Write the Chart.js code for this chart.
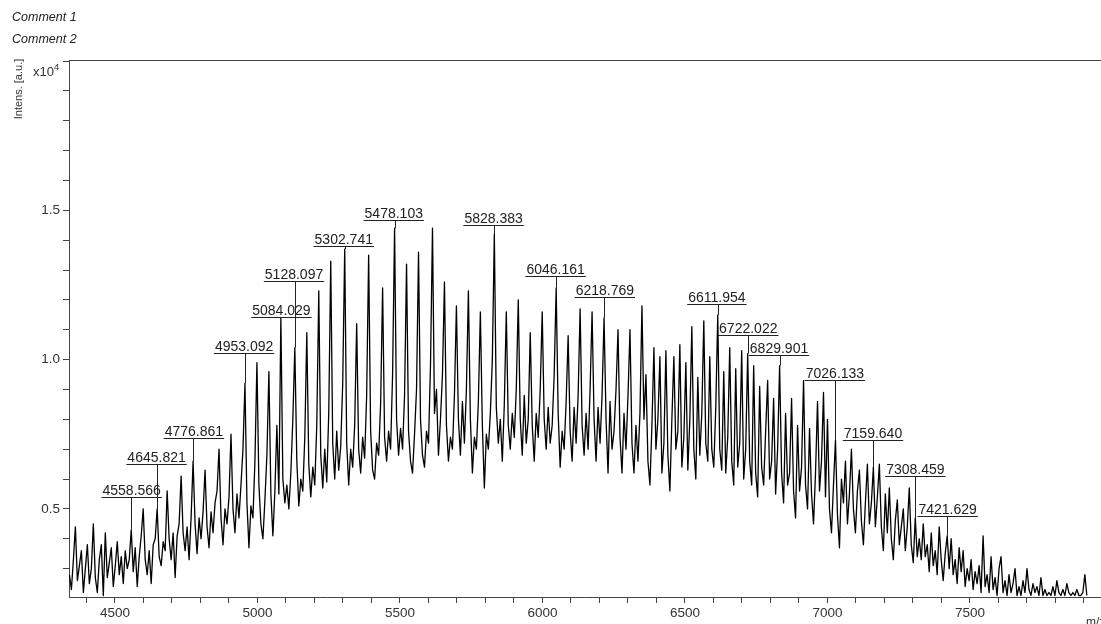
<!DOCTYPE html>
<html>
<head>
<meta charset="utf-8">
<title>Mass spectrum</title>
<script src="https://cdn.jsdelivr.net/npm/chart.js@4.4.0/dist/chart.umd.min.js"></script>
<style>
  html, body { margin: 0; padding: 0; background: #fff; overflow: hidden; }
  #wrap { position: relative; width: 1101px; height: 624px; }
</style>
</head>
<body>
<div id="wrap"><canvas id="spectrum" width="1101" height="624"></canvas></div>
<script>
// spectrum sampled every 7 Da starting at 4340 m/z, intensity in x10^4 a.u.
var mzStart = 4340;
var mzStep = 7;
var intensity = [
  0.28,0.23,0.33,0.44,0.26,0.31,0.36,0.22,0.30,0.38,
  0.25,0.30,0.45,0.27,0.22,0.33,0.38,0.21,0.42,0.27,
  0.32,0.37,0.24,0.31,0.39,0.28,0.34,0.25,0.36,0.30,
  0.33,0.43,0.29,0.37,0.24,0.34,0.41,0.50,0.33,0.28,
  0.36,0.25,0.38,0.40,0.50,0.34,0.31,0.39,0.36,0.56,
  0.40,0.33,0.42,0.27,0.41,0.45,0.61,0.42,0.36,0.44,
  0.33,0.47,0.66,0.45,0.35,0.47,0.40,0.49,0.63,0.44,
  0.37,0.49,0.42,0.52,0.56,0.70,0.47,0.38,0.50,0.45,
  0.54,0.75,0.50,0.42,0.55,0.47,0.58,0.70,0.92,0.52,
  0.37,0.51,0.47,0.66,0.99,0.58,0.45,0.40,0.53,0.68,
  0.96,0.55,0.41,0.56,0.78,0.55,1.14,0.60,0.52,0.58,
  0.50,0.62,0.80,1.04,0.66,0.51,0.60,0.56,0.74,1.09,
  0.65,0.54,0.64,0.58,0.78,1.23,0.68,0.57,0.70,0.59,
  0.82,1.33,0.72,0.60,0.76,0.63,0.71,0.92,1.37,0.72,
  0.58,0.70,0.64,0.78,1.12,0.70,0.62,0.74,0.67,0.88,
  1.35,0.76,0.63,0.60,0.72,0.68,0.85,1.24,0.74,0.66,
  0.76,0.70,0.95,1.44,0.80,0.68,0.77,0.70,0.88,1.32,
  0.76,0.66,0.62,0.75,0.90,1.36,0.80,0.68,0.64,0.76,
  0.72,0.98,1.44,0.82,0.90,0.68,0.80,0.95,1.26,0.78,
  0.66,0.74,0.70,0.88,1.18,0.80,0.68,0.86,0.72,0.90,
  1.23,0.80,0.62,0.74,0.70,0.86,1.16,0.78,0.57,0.75,
  0.70,0.82,1.00,1.42,0.84,0.72,0.80,0.66,0.85,1.16,
  0.78,0.70,0.82,0.74,0.90,1.20,0.80,0.68,0.88,0.72,
  0.80,1.09,0.78,0.66,0.82,0.74,0.90,1.16,0.80,0.70,
  0.84,0.72,0.78,0.95,1.24,0.82,0.64,0.76,0.70,0.86,
  1.08,0.76,0.66,0.84,0.72,0.88,1.17,0.78,0.68,0.82,
  0.70,0.90,1.16,0.80,0.66,0.84,0.72,0.88,1.14,0.80,
  0.62,0.86,0.70,0.76,0.90,1.10,0.74,0.62,0.82,0.70,
  0.88,1.10,0.72,0.62,0.78,0.66,0.82,1.18,0.80,0.95,
  0.66,0.58,0.78,1.04,0.70,0.80,1.01,0.62,0.72,1.03,
  0.68,0.56,0.80,1.01,0.70,0.76,1.05,0.64,0.74,0.99,
  0.63,0.80,1.11,0.70,0.60,0.94,0.68,0.82,1.13,0.72,
  0.66,1.01,0.70,0.64,0.84,1.15,0.70,0.63,0.96,0.62,
  0.74,1.04,0.66,0.58,0.97,0.64,0.72,1.03,0.60,0.70,
  1.02,0.66,0.58,0.98,0.62,0.54,0.91,0.64,0.58,0.76,
  0.93,0.60,0.66,0.87,0.55,0.70,0.98,0.62,0.52,0.82,
  0.58,0.62,0.87,0.56,0.47,0.78,0.56,0.64,0.93,0.58,
  0.50,0.77,0.55,0.45,0.62,0.86,0.56,0.66,0.89,0.54,
  0.80,0.50,0.42,0.58,0.73,0.48,0.37,0.60,0.52,0.66,
  0.45,0.55,0.70,0.50,0.42,0.56,0.63,0.46,0.38,0.52,
  0.65,0.45,0.52,0.64,0.44,0.54,0.65,0.44,0.36,0.55,
  0.42,0.57,0.40,0.33,0.46,0.53,0.38,0.44,0.50,0.36,
  0.44,0.57,0.38,0.32,0.47,0.34,0.40,0.33,0.45,0.34,
  0.38,0.29,0.42,0.31,0.36,0.28,0.44,0.33,0.26,0.35,
  0.41,0.30,0.40,0.28,0.33,0.25,0.37,0.29,0.36,0.24,
  0.30,0.26,0.33,0.23,0.29,0.25,0.31,0.22,0.41,0.24,
  0.28,0.22,0.34,0.23,0.27,0.21,0.30,0.34,0.22,0.26,
  0.21,0.28,0.22,0.25,0.30,0.21,0.24,0.21,0.26,0.22,
  0.30,0.23,0.21,0.25,0.22,0.24,0.21,0.27,0.21,0.23,
  0.21,0.22,0.21,0.24,0.21,0.26,0.22,0.21,0.23,0.21,
  0.25,0.22,0.21,0.22,0.21,0.23,0.21,0.21,0.22,0.28,0.21
];

// annotated peaks and the height of their label underline (x10^4)
var peakLabels = [4558.566, 4645.821, 4776.861, 4953.092, 5084.029, 5128.097,
  5302.741, 5478.103, 5828.383, 6046.161, 6218.769, 6611.954,
  6722.022, 6829.901, 7026.133, 7159.640, 7308.459, 7421.629];
var labelHeights = [0.54, 0.651, 0.738, 1.023, 1.144, 1.262,
  1.379, 1.466, 1.45, 1.279, 1.211, 1.185,
  1.081, 1.017, 0.933, 0.732, 0.611, 0.477];

var xTicks = [4400, 4500, 4600, 4700, 4800, 4900, 5000, 5100, 5200, 5300, 5400,
  5500, 5600, 5700, 5800, 5900, 6000, 6100, 6200, 6300, 6400, 6500, 6600,
  6700, 6800, 6900, 7000, 7100, 7200, 7300, 7400, 7500, 7600, 7700, 7800, 7900];
var xTickLabels = ["4500", "5000", "5500", "6000", "6500", "7000", "7500"];
var yTicks = [0.3, 0.4, 0.5, 0.6, 0.7, 0.8, 0.9, 1.0, 1.1, 1.2, 1.3, 1.4,
  1.5, 1.6, 1.7, 1.8, 1.9, 2.0];
var yTickLabels = ["0.5", "1.0", "1.5"];

var FONT = "'Liberation Sans', Arial, sans-serif";

var points = intensity.map(function (v, i) {
  return { x: mzStart + i * mzStep, y: v };
});

var annotate = {
  id: "annotate",
  afterDraw: function (chart) {
    var ctx = chart.ctx;
    var xs = chart.scales.x;
    var ys = chart.scales.y;
    var area = chart.chartArea;
    ctx.save();

    // frame top
    ctx.strokeStyle = "#444";
    ctx.lineWidth = 1;
    ctx.beginPath();
    ctx.moveTo(area.left, area.top - 0.5);
    ctx.lineTo(chart.width, area.top - 0.5);
    ctx.stroke();

    // peak labels
    ctx.strokeStyle = "#222";
    ctx.fillStyle = "#222";
    ctx.font = "14px " + FONT;
    ctx.textAlign = "center";
    ctx.textBaseline = "alphabetic";
    peakLabels.forEach(function (mz, k) {
      var idx = Math.round((mz - mzStart) / mzStep);
      var px = Math.round(xs.getPixelForValue(mzStart + idx * mzStep)) + 0.5;
      var tx = xs.getPixelForValue(mz);
      var ly = Math.round(ys.getPixelForValue(labelHeights[k])) + 0.5;
      var py = ys.getPixelForValue(intensity[idx]);
      var text = mz.toFixed(3);
      var w = ctx.measureText(text).width;
      ctx.fillText(text, tx, ly - 3);
      ctx.beginPath();
      ctx.moveTo(tx - w / 2 - 1, ly);
      ctx.lineTo(tx + w / 2 + 1, ly);
      if (py > ly) {
        ctx.moveTo(px, ly);
        ctx.lineTo(px, py);
      }
      ctx.stroke();
    });

    // comments
    ctx.textAlign = "left";
    ctx.font = "italic 12.5px " + FONT;
    ctx.fillText("Comment 1", 12, 21);
    ctx.fillText("Comment 2", 12, 43);

    // y exponent
    ctx.fillStyle = "#333";
    ctx.font = "13px " + FONT;
    ctx.textAlign = "right";
    ctx.fillText("x10", 54, 76);
    ctx.textAlign = "left";
    ctx.font = "9.5px " + FONT;
    ctx.fillText("4", 54, 70);

    // axis titles
    ctx.font = "12px " + FONT;
    ctx.fillText("m/z", 1086, 626);
    ctx.translate(22, 89);
    ctx.rotate(-Math.PI / 2);
    ctx.textAlign = "center";
    ctx.font = "11px " + FONT;
    ctx.fillText("Intens. [a.u.]", 0, 0);
    ctx.restore();
  }
};

var config = {
  type: "line",
  data: {
    datasets: [
      {
        label: "spectrum",
        data: points,
        borderColor: "#000",
        borderWidth: 1.3,
        borderJoinStyle: "round",
        pointRadius: 0,
        tension: 0,
        fill: false,
      },
    ],
  },
  options: {
    responsive: false,
    animation: false,
    events: [],
    layout: { padding: { top: 61, right: 0, bottom: 0, left: 0 } },
    plugins: {
      legend: { display: false },
      tooltip: { enabled: false },
    },
    scales: {
      x: {
        type: "linear",
        min: 4338.6,
        max: 7959.7,
        afterBuildTicks: function (scale) {
          scale.ticks = xTicks.map(function (v) { return { value: v }; });
        },
        afterFit: function (scale) { scale.height = 27; },
        grid: { drawOnChartArea: false, drawTicks: true, tickLength: 6, color: "#444" },
        border: { display: true, color: "#444", width: 1 },
        ticks: {
          autoSkip: false,
          maxRotation: 0,
          padding: 2,
          color: "#333",
          font: { family: FONT, size: 13.5 },
          callback: function (v) {
            return xTickLabels.indexOf(String(v)) >= 0 ? String(v) : "";
          },
        },
      },
      y: {
        type: "linear",
        min: 0.205,
        max: 2.0,
        afterBuildTicks: function (scale) {
          scale.ticks = yTicks.map(function (v) { return { value: v }; });
        },
        afterFit: function (scale) { scale.width = 69; },
        grid: { drawOnChartArea: false, drawTicks: true, tickLength: 6, color: "#444" },
        border: { display: true, color: "#444", width: 1 },
        ticks: {
          autoSkip: false,
          padding: 3,
          color: "#333",
          font: { family: FONT, size: 13.5 },
          callback: function (v) {
            var t = v.toFixed(1);
            return yTickLabels.indexOf(t) >= 0 ? t : "";
          },
        },
      },
    },
  },
  plugins: [annotate],
};

var ctx = document.getElementById("spectrum").getContext("2d");
window.chart = new Chart(ctx, config);
</script>
</body>
</html>
